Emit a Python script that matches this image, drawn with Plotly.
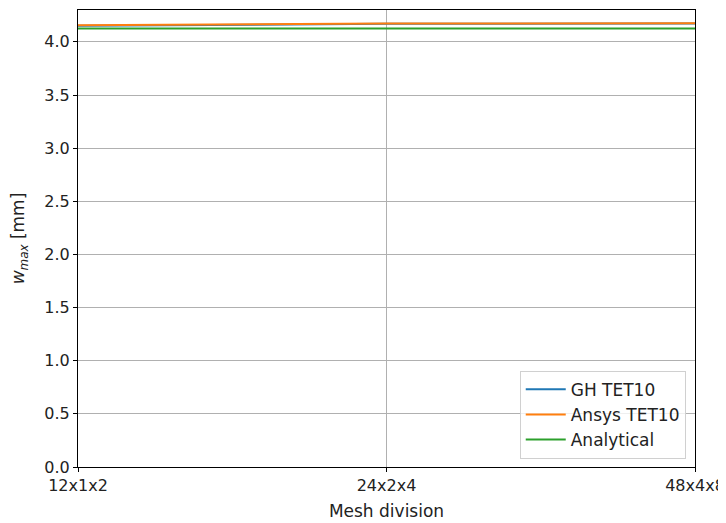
import plotly.graph_objects as go

categories = ["12x1x2", "24x2x4", "48x4x8"]
gh_tet10 = [4.152, 4.170, 4.174]
ansys_tet10 = [4.157, 4.172, 4.176]
analytical = [4.125, 4.125, 4.125]
y_ticks = [0.0, 0.5, 1.0, 1.5, 2.0, 2.5, 3.0, 3.5, 4.0]

x_idx = list(range(len(categories)))

fig = go.Figure()
fig.add_trace(go.Scatter(x=x_idx, y=gh_tet10, mode="lines", name="GH TET10",
                         line=dict(color="#1f77b4", width=2)))
fig.add_trace(go.Scatter(x=x_idx, y=ansys_tet10, mode="lines", name="Ansys TET10",
                         line=dict(color="#ff7f0e", width=2)))
fig.add_trace(go.Scatter(x=x_idx, y=analytical, mode="lines", name="Analytical",
                         line=dict(color="#2ca02c", width=2)))

font = dict(family="DejaVu Sans", size=16, color="#222222")
fig.update_layout(
    width=718, height=515,
    margin=dict(l=70, r=31, t=2, b=56),
    plot_bgcolor="white", paper_bgcolor="white",
    font=font,
    showlegend=True,
    legend=dict(x=0.985, y=0.018, xanchor="right", yanchor="bottom",
                bgcolor="rgba(255,255,255,0.8)", bordercolor="#d0d0d0", borderwidth=1,
                font=dict(family="DejaVu Sans", size=17, color="#222222"),
                itemwidth=40, tracegroupgap=0),
    xaxis=dict(
        range=[0, 2], tickmode="array", tickvals=x_idx, ticktext=categories,
        showgrid=True, gridcolor="#b0b0b0", gridwidth=0.8,
        showline=True, linecolor="black", linewidth=1, mirror=True,
        ticks="outside", ticklen=4, tickcolor="black", zeroline=False,
        ticklabeloverflow="allow",
        title=dict(text="Mesh division", standoff=10, font=dict(size=17)),
    ),
    yaxis=dict(
        range=[0, 4.3], tickmode="array", tickvals=y_ticks,
        ticktext=[f"{v:.1f}" for v in y_ticks],
        showgrid=True, gridcolor="#b0b0b0", gridwidth=0.8,
        showline=True, linecolor="black", linewidth=1, mirror=True,
        ticks="outside", ticklen=4, tickcolor="black", zeroline=False,
        title=dict(text="<i>w</i><sub><i>max</i></sub> [mm]", standoff=17, font=dict(size=17)),
    ),
)

fig.write_html("out.html", config={"displayModeBar": False})
